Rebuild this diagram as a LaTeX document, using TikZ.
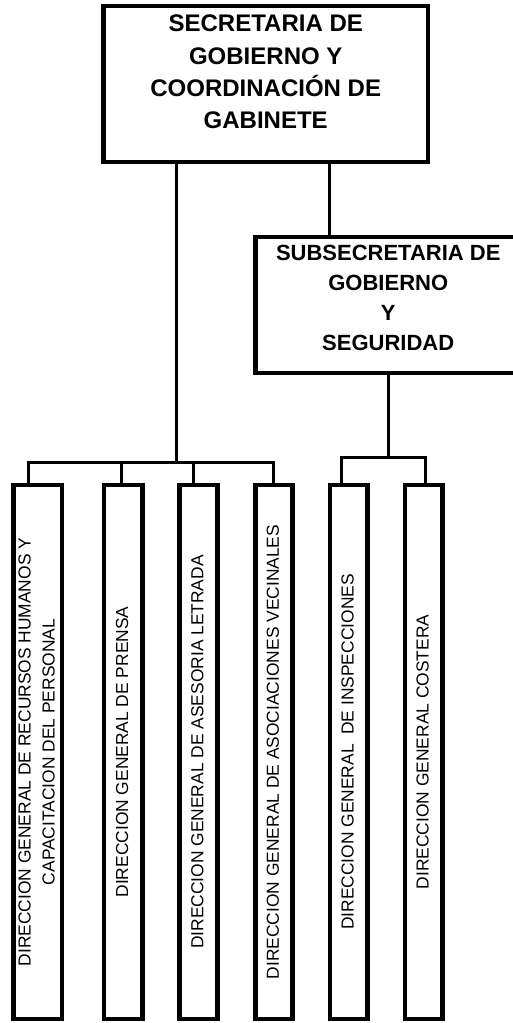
\documentclass[tikz,border=0pt]{standalone}
\usepackage{fontspec}
\setmainfont{Liberation Sans}

\newcommand{\vtext}[1]{\rotatebox{90}{\begin{tabular}{@{}c@{}}#1\end{tabular}}}

\begin{document}
\begin{tikzpicture}[x=1pt, y=-1pt,
  unitbox/.style={draw, line width=4.2pt, inner sep=0pt},
  dirbox/.style={unitbox, minimum height=534pt, font=\fontsize{17.4}{24}\selectfont},
  link/.style={line width=3pt}]

% page
\clip (0,0) rectangle (513,1023);

% secretaria
\node[unitbox, minimum width=324.5pt, minimum height=156pt,
  label={[font=\bfseries\fontsize{24}{32.3}\selectfont, align=center, anchor=north, inner sep=0pt, yshift=-11pt]north:SECRETARIA DE\\GOBIERNO Y\\COORDINACIÓN DE\\GABINETE}]
  (sec) at (265.75,84) {};

% subsecretaria
\node[unitbox, minimum width=265.5pt, minimum height=136pt,
  label={[font=\bfseries\fontsize{22}{30}\selectfont, align=center, anchor=north, inner sep=0pt, yshift=-10pt]north:SUBSECRETARIA DE\\GOBIERNO\\Y\\SEGURIDAD}]
  (sub) at (388.25,305) {};

% direcciones generales
\node[dirbox, minimum width=48.5pt] (recursos) at (37.75,752) {\vtext{DIRECCION GENERAL DE RECURSOS HUMANOS Y\\CAPACITACION DEL PERSONAL}};
\node[dirbox, minimum width=38.5pt] (prensa) at (123.25,752) {\vtext{DIRECCION GENERAL DE PRENSA}};
\node[dirbox, minimum width=38pt] (asesoria) at (198.5,752) {\vtext{DIRECCION GENERAL DE ASESORIA LETRADA}};
\node[dirbox, minimum width=37pt] (vecinales) at (274,752) {\vtext{DIRECCION GENERAL DE ASOCIACIONES VECINALES}};
\node[dirbox, minimum width=37.5pt] (inspecciones) at (348.75,752) {\vtext{DIRECCION GENERAL~ DE INSPECCIONES}};
\node[dirbox, minimum width=37.5pt] (costera) at (423.75,752) {\vtext{DIRECCION GENERAL COSTERA}};

% links
\coordinate (mainjoin) at (176,462);
\coordinate (subjoin) at (388.25,457);
\coordinate (subtop) at ([xshift=-59.25pt]sub.north);
\draw[link] (sec.south -| mainjoin) -- (mainjoin);
\draw[link] (sec.south -| subtop) -- (subtop);
\draw[link] (sub.south) -- (subjoin);

\draw[link] ([xshift=-9.5pt]recursos.north) |- (mainjoin);
\draw[link] ([xshift=-2pt]prensa.north) |- (mainjoin);
\draw[link] ([xshift=-5.5pt]asesoria.north) |- (mainjoin);
\draw[link] ([xshift=-1pt]vecinales.north) |- (mainjoin);

\draw[link] ([xshift=-7pt]inspecciones.north) |- (subjoin);
\draw[link] ([xshift=1.25pt]costera.north) |- (subjoin);

\end{tikzpicture}
\end{document}
